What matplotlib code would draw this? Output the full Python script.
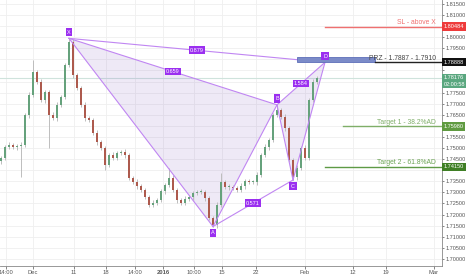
import matplotlib
matplotlib.use("Agg")
import matplotlib.pyplot as plt
import matplotlib.transforms as mtransforms
from matplotlib.patches import Polygon, Rectangle

plt.rcParams["font.family"] = ["Liberation Sans", "DejaVu Sans"]

# candle positions (bar slot) and closes
bar_x = list(range(1, 318, 4))
first_open = 1.7440
closes = [1.7456, 1.7505, 1.7514, 1.7505, 1.7510, 1.7514, 1.7649, 1.7740, 1.7843, 1.7798,
          1.7717, 1.7753, 1.7649, 1.7636, 1.7695, 1.7731, 1.7875, 1.7979, 1.7830, 1.7771,
          1.7695, 1.7636, 1.7627, 1.7568, 1.7528, 1.7501, 1.7424, 1.7469, 1.7456, 1.7478,
          1.7483, 1.7469, 1.7365, 1.7347, 1.7329, 1.7311, 1.7280, 1.7244, 1.7253, 1.7266,
          1.7307, 1.7334, 1.7365, 1.7311, 1.7266, 1.7253, 1.7271, 1.7280, 1.7298, 1.7302,
          1.7302, 1.7275, 1.7185, 1.7153, 1.7244, 1.7347, 1.7325, 1.7325, 1.7320, 1.7311,
          1.7329, 1.7352, 1.7347, 1.7347, 1.7379, 1.7469, 1.7505, 1.7537, 1.7649, 1.7672,
          1.7640, 1.7591, 1.7447, 1.7370, 1.7410, 1.7501, 1.7456, 1.7717, 1.7798, 1.7816]
# wick lengths in pips
wick_up = [10, 8, 12, 10, 10, 12, 10, 12, 54, 10,
           12, 10, 10, 14, 12, 10, 10, 18, 12, 10,
           10, 12, 10, 10, 12, 10, 10, 10, 12, 10,
           10, 12, 10, 10, 12, 10, 10, 10, 12, 10,
           10, 10, 45, 12, 10, 10, 12, 10, 10, 10,
           12, 10, 10, 8, 12, 41, 10, 12, 10, 10,
           12, 10, 10, 10, 14, 10, 12, 10, 10, 23,
           10, 12, 10, 10, 12, 10, 14, 10, 12, 10]
wick_dn = [10, 12, 10, 10, 12, 140, 10, 12, 10, 10,
           10, 12, 148, 10, 12, 10, 10, 10, 12, 10,
           10, 12, 10, 10, 12, 10, 22, 10, 12, 10,
           10, 12, 10, 10, 12, 10, 10, 10, 12, 10,
           10, 12, 10, 10, 12, 10, 10, 10, 12, 10,
           10, 12, 10, 9, 12, 10, 10, 12, 10, 10,
           10, 12, 10, 10, 12, 10, 10, 12, 10, 10,
           10, 12, 10, 14, 12, 10, 10, 12, 10, 10]

# harmonic pattern points
pat_names = ["X", "A", "B", "C", "D"]
pat_x = [69, 213, 277, 293, 325]
pat_p = [1.7995, 1.7146, 1.7695, 1.7356, 1.7887]
ratio_labels = {("X", "B"): "0.659", ("X", "D"): "0.879", ("A", "C"): "0.571", ("B", "D"): "1.584"}

# levels
sl_price = 1.80484
prz_low, prz_high = 1.7887, 1.7910
target1 = 1.75980
target2 = 1.74150
last_price = 1.78176

xtick_pos = [6, 33, 74, 106, 135, 163, 194, 222, 256, 305, 353, 386, 434]
xtick_lab = ["14:00", "Dec", "11", "18", "14:00", "2016", "10:00", "15", "22", "Feb", "12", "19", "Mar"]
yticks = [round(1.700 + 0.005 * i, 3) for i in range(24)]

fig = plt.figure(figsize=(4.66, 2.75), dpi=100)
ax = fig.add_axes([0, 9 / 275, 442 / 466, 266 / 275])
ax.set_xlim(0, 442)
ax.set_ylim(1.6968, 1.8168)

# grid
for p in yticks:
    ax.axhline(p, color="#efefef", lw=0.6, zorder=0)
for x in xtick_pos:
    ax.axvline(x, color="#efefef", lw=0.6, zorder=0)

# current price line
ax.axhline(last_price, color="#cfe3dc", lw=0.8, zorder=1)

# candles
opens = [first_open] + closes[:-1]
for i, x in enumerate(bar_x):
    o, c = opens[i], closes[i]
    hi = max(o, c) + wick_up[i] * 0.0001
    lo = min(o, c) - wick_dn[i] * 0.0001
    col = "#66a27c" if c >= o else "#ad5a4d"
    ax.vlines(x, lo, hi, color="#bdbdbd", lw=0.7, zorder=2)
    ax.add_patch(Rectangle((x - 1.0, min(o, c)), 2.0, max(abs(c - o), 0.00025),
                           facecolor=col, edgecolor="none", zorder=3))

# pattern
pts = dict(zip(pat_names, zip(pat_x, pat_p)))
line_col = "#c086f2"
for tri in [("X", "A", "B"), ("B", "C", "D")]:
    ax.add_patch(Polygon([pts[n] for n in tri], closed=True, facecolor="#8e6cc8",
                         alpha=0.15, edgecolor="none", zorder=1.5))
for a, b in [("X", "A"), ("A", "B"), ("B", "C"), ("C", "D"), ("X", "B"), ("X", "D"), ("A", "C"), ("B", "D")]:
    ax.plot([pts[a][0], pts[b][0]], [pts[a][1], pts[b][1]], color=line_col, lw=0.8, zorder=4)
for (a, b), txt in ratio_labels.items():
    mx = (pts[a][0] + pts[b][0]) / 2
    my = (pts[a][1] + pts[b][1]) / 2
    ax.text(mx, my, txt, fontsize=4.0, color="white", ha="center", va="center", zorder=6,
            bbox=dict(boxstyle="square,pad=0.25", facecolor="#9b2ff0", edgecolor="none"))
for n, x, p in zip(pat_names, pat_x, pat_p):
    off = -0.0028 if n in ("A", "C") else 0.0028
    ax.text(x, p + off, n, fontsize=4.0, color="white", ha="center", va="center", zorder=6,
            bbox=dict(boxstyle="square,pad=0.3", facecolor="#9b2ff0", edgecolor="none"))

# levels
fs = 4.9
ax.plot([325, 442], [sl_price, sl_price], color="#ef7070", lw=1.0, zorder=4)
ax.text(436, sl_price + 0.0003, "SL - above X", fontsize=fs, color="#f07070", ha="right", va="bottom", zorder=6)
ax.add_patch(Rectangle((297, prz_low), 78, prz_high - prz_low, facecolor="#7b8bc8",
                       edgecolor="#5d6fb8", lw=0.6, zorder=4))
ax.plot([375, 442], [prz_low, prz_low], color="#222222", lw=1.0, zorder=4)
ax.text(436, prz_low + 0.0003, "PRZ - 1.7887 - 1.7910", fontsize=fs, color="#444444", ha="right", va="bottom", zorder=6)
ax.plot([343, 442], [target1, target1], color="#7fae68", lw=1.0, zorder=4)
ax.text(436, target1 + 0.0003, "Target 1 - 38.2%AD", fontsize=fs, color="#7fae68", ha="right", va="bottom", zorder=6)
ax.plot([325, 442], [target2, target2], color="#5e9a45", lw=1.0, zorder=4)
ax.text(436, target2 + 0.0003, "Target 2 - 61.8%AD", fontsize=fs, color="#6aa352", ha="right", va="bottom", zorder=6)

# price boxes on the right axis
trans = mtransforms.blended_transform_factory(ax.transAxes, ax.transData)
boxes = [(sl_price, "%.5f" % sl_price, "#ee3b3b"),
         (prz_low, "1.78888", "#111111"),
         (last_price, "%.5f" % last_price, "#5aa77f"),
         (target1, "%.5f" % target1, "#5f9a40"),
         (target2, "%.5f" % target2, "#3f7f25")]
for p, txt, col in boxes:
    ax.text(1.004, p, txt, transform=trans, fontsize=4.0, color="white", ha="left", va="center",
            clip_on=False, zorder=10,
            bbox=dict(boxstyle="square,pad=0.3", facecolor=col, edgecolor="none"))
countdown_p = last_price - 0.0030
ax.text(1.004, countdown_p, "02:00:58", transform=trans, fontsize=4.0, color="white",
        ha="left", va="center", clip_on=False, zorder=10,
        bbox=dict(boxstyle="square,pad=0.3", facecolor="#5aa77f", edgecolor="none"))

# axes styling
for s in ["left", "top"]:
    ax.spines[s].set_visible(False)
ax.spines["right"].set_color("#888888")
ax.spines["bottom"].set_color("#888888")
ax.spines["right"].set_linewidth(0.6)
ax.spines["bottom"].set_linewidth(0.6)
ax.yaxis.tick_right()
ax.set_yticks(yticks)
# tick labels hidden behind the price boxes
covered = [b[0] for b in boxes] + [countdown_p]
ax.set_yticklabels(["" if any(abs(p - q) < 0.0033 for q in covered) else "%.5f" % p for p in yticks])
ax.tick_params(axis="y", labelsize=4.0, colors="#555555", length=1.5, width=0.5, pad=0.8)
ax.set_xticks(xtick_pos)
ax.set_xticklabels(xtick_lab)
ax.tick_params(axis="x", labelsize=4.2, colors="#555555", length=2, width=0.5, pad=1)
for lab in ax.get_xticklabels():
    if lab.get_text() == "2016":
        lab.set_fontweight("bold")

fig.savefig("out.png", dpi=100)
